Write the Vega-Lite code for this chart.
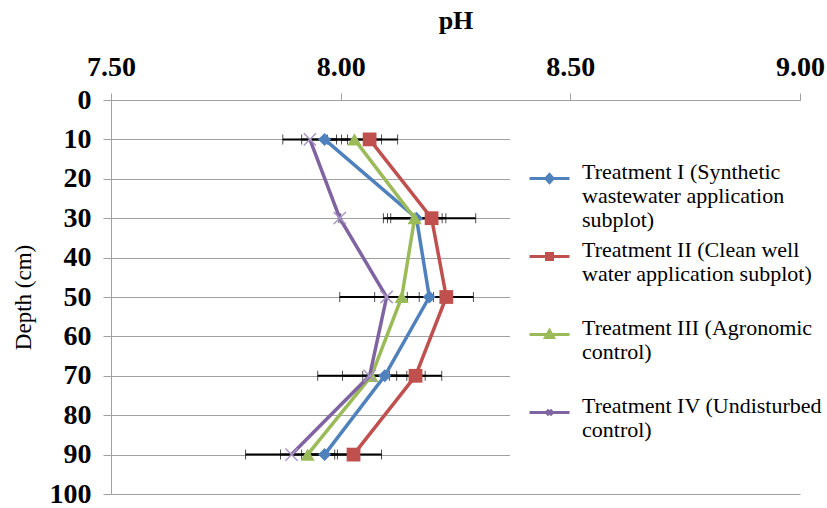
{
  "$schema": "https://vega.github.io/schema/vega-lite/v6.json",
  "width": 689,
  "height": 394,
  "autosize": {"type": "none"},
  "padding": {"left": 111, "top": 100, "right": 27, "bottom": 14},
  "background": "white",
  "config": {
    "view": {"stroke": null},
    "font": "Liberation Serif",
    "style": {"guide-label": {"lineHeight": 24}},
    "legend": {
      "orient": "none",
      "legendX": 399,
      "legendY": 39,
      "padding": 18,
      "fillColor": "white",
      "labelFont": "Liberation Serif",
      "labelFontSize": 22,
      "labelColor": "black",
      "labelBaseline": "alphabetic",
      "labelLimit": 400,
      "labelOffset": 11,
      "symbolSize": 1600,
      "symbolStrokeWidth": 3,
      "symbolOpacity": 1,
      "gridAlign": "all",
      "rowPadding": 4
    }
  },
  "data": {
    "values": [
      {"t": "Treatment I", "depth": 10, "ph": 7.965, "lo": 7.915, "hi": 8.015},
      {"t": "Treatment I", "depth": 30, "ph": 8.165, "lo": 8.109, "hi": 8.221},
      {"t": "Treatment I", "depth": 50, "ph": 8.193, "lo": 8.145, "hi": 8.241},
      {"t": "Treatment I", "depth": 70, "ph": 8.096, "lo": 8.048, "hi": 8.144},
      {"t": "Treatment I", "depth": 90, "ph": 7.965, "lo": 7.915, "hi": 8.015},
      {"t": "Treatment II", "depth": 10, "ph": 8.063, "lo": 8.002, "hi": 8.124},
      {"t": "Treatment II", "depth": 30, "ph": 8.198, "lo": 8.102, "hi": 8.294},
      {"t": "Treatment II", "depth": 50, "ph": 8.23, "lo": 8.171, "hi": 8.289},
      {"t": "Treatment II", "depth": 70, "ph": 8.163, "lo": 8.106, "hi": 8.22},
      {"t": "Treatment II", "depth": 90, "ph": 8.028, "lo": 7.967, "hi": 8.089},
      {"t": "Treatment III", "depth": 10, "ph": 8.03, "lo": 7.971, "hi": 8.089},
      {"t": "Treatment III", "depth": 30, "ph": 8.161, "lo": 8.093, "hi": 8.229},
      {"t": "Treatment III", "depth": 50, "ph": 8.133, "lo": 8.074, "hi": 8.192},
      {"t": "Treatment III", "depth": 70, "ph": 8.067, "lo": 7.95, "hi": 8.184},
      {"t": "Treatment III", "depth": 90, "ph": 7.928, "lo": 7.869, "hi": 7.987},
      {"t": "Treatment IV", "depth": 10, "ph": 7.933, "lo": 7.874, "hi": 7.991},
      {"t": "Treatment IV", "depth": 30, "ph": 7.998, "lo": 7.996, "hi": 8.0},
      {"t": "Treatment IV", "depth": 50, "ph": 8.1, "lo": 7.998, "hi": 8.202},
      {"t": "Treatment IV", "depth": 70, "ph": 8.063, "lo": 8.004, "hi": 8.122},
      {"t": "Treatment IV", "depth": 90, "ph": 7.893, "lo": 7.793, "hi": 7.993}
    ]
  },
  "encoding": {
    "y": {
      "field": "depth",
      "type": "quantitative",
      "scale": {"domain": [0, 100], "reverse": true, "nice": false, "zero": false},
      "axis": {
        "values": [0, 10, 20, 30, 40, 50, 60, 70, 80, 90, 100],
        "grid": true,
        "gridColor": "#a0a0a0",
        "domainColor": "#a0a0a0",
        "tickColor": "#a0a0a0",
        "tickSize": 8,
        "labelFontSize": 28,
        "labelFontWeight": "bold",
        "labelColor": "black",
        "labelPadding": 12,
        "labelFlush": false,
        "title": "Depth (cm)",
        "titleFontSize": 23,
        "titleFontWeight": "normal",
        "titleColor": "black",
        "titlePadding": 14
      }
    }
  },
  "layer": [
    {
      "mark": {
        "type": "errorbar",
        "ticks": {"size": 10, "color": "black", "strokeWidth": 2},
        "rule": {"color": "black", "strokeWidth": 2},
        "color": "black"
      },
      "encoding": {
        "x": {
          "field": "lo",
          "type": "quantitative",
          "scale": {"domain": [7.5, 9], "nice": false, "zero": false},
          "axis": {
            "orient": "top",
            "values": [7.5, 8, 8.5, 9],
            "format": ".2f",
            "grid": false,
            "domainColor": "#a0a0a0",
            "tickColor": "#a0a0a0",
            "tickSize": 7,
            "labelFontSize": 28,
            "labelFontWeight": "bold",
            "labelColor": "black",
            "labelPadding": 12,
            "labelFlush": false,
            "title": "pH",
            "titleFontSize": 26,
            "titleFontWeight": "bold",
            "titleColor": "black",
            "titlePadding": 20
          }
        },
        "x2": {"field": "hi"}
      }
    },
    {
      "transform": [{"filter": "datum.t == 'Treatment I'"}],
      "mark": {"type": "line", "color": "#4F81BD", "strokeWidth": 3.5,
        "point": {"shape": "diamond", "filled": true, "size": 170, "color": "#4F81BD"}},
      "encoding": {"x": {"field": "ph", "type": "quantitative"}, "order": {"field": "depth", "type": "quantitative"}}
    },
    {
      "transform": [{"filter": "datum.t == 'Treatment II'"}],
      "mark": {"type": "line", "color": "#C0504D", "strokeWidth": 3.5,
        "point": {"shape": "square", "filled": true, "size": 190, "color": "#C0504D"}},
      "encoding": {"x": {"field": "ph", "type": "quantitative"}, "order": {"field": "depth", "type": "quantitative"}}
    },
    {
      "transform": [{"filter": "datum.t == 'Treatment III'"}],
      "mark": {"type": "line", "color": "#9BBB59", "strokeWidth": 3.5,
        "point": {"shape": "triangle-up", "filled": true, "size": 200, "color": "#9BBB59"}},
      "encoding": {"x": {"field": "ph", "type": "quantitative"}, "order": {"field": "depth", "type": "quantitative"}}
    },
    {
      "transform": [{"filter": "datum.t == 'Treatment IV'"}],
      "mark": {"type": "line", "color": "#8064A2", "strokeWidth": 3.5,
        "point": {"shape": "M-1,-1L1,1M-1,1L1,-1", "filled": false, "size": 150, "strokeWidth": 1.5, "color": "#a996c6"}},
      "encoding": {"x": {"field": "ph", "type": "quantitative"}, "order": {"field": "depth", "type": "quantitative"}}
    },
    {
      "mark": {"type": "point", "filled": true, "opacity": 0},
      "encoding": {
        "x": {"field": "ph", "type": "quantitative"},
        "color": {
          "field": "t",
          "type": "nominal",
          "scale": {
            "domain": ["Treatment I", "Treatment II", "Treatment III", "Treatment IV"],
            "range": ["#4F81BD", "#C0504D", "#9BBB59", "#8064A2"]
          },
          "legend": {
            "title": null,
            "labelExpr": "datum.value == 'Treatment I' ? ['Treatment I (Synthetic', 'wastewater application', 'subplot)'] : datum.value == 'Treatment II' ? ['Treatment II (Clean well', 'water application subplot)'] : datum.value == 'Treatment III' ? ['Treatment III (Agronomic', 'control)'] : ['Treatment IV (Undisturbed', 'control)']"
          }
        },
        "stroke": {
          "field": "t",
          "type": "nominal",
          "scale": {
            "domain": ["Treatment I", "Treatment II", "Treatment III", "Treatment IV"],
            "range": ["#4F81BD", "#C0504D", "#9BBB59", "#8064A2"]
          },
          "legend": {
            "title": null,
            "labelExpr": "datum.value == 'Treatment I' ? ['Treatment I (Synthetic', 'wastewater application', 'subplot)'] : datum.value == 'Treatment II' ? ['Treatment II (Clean well', 'water application subplot)'] : datum.value == 'Treatment III' ? ['Treatment III (Agronomic', 'control)'] : ['Treatment IV (Undisturbed', 'control)']"
          }
        },
        "shape": {
          "field": "t",
          "type": "nominal",
          "scale": {
            "domain": ["Treatment I", "Treatment II", "Treatment III", "Treatment IV"],
            "range": [
              "M-1,0H1M0,-0.2L0.18,0L0,0.2L-0.18,0Z",
              "M-1,0H1M-0.15,-0.15H0.15V0.15H-0.15Z",
              "M-1,0H1M0,-0.2L0.2,0.15H-0.2Z",
              "M-1,0H1M-0.13,-0.13L0.13,0.13M-0.13,0.13L0.13,-0.13"
            ]
          },
          "legend": {
            "title": null,
            "labelExpr": "datum.value == 'Treatment I' ? ['Treatment I (Synthetic', 'wastewater application', 'subplot)'] : datum.value == 'Treatment II' ? ['Treatment II (Clean well', 'water application subplot)'] : datum.value == 'Treatment III' ? ['Treatment III (Agronomic', 'control)'] : ['Treatment IV (Undisturbed', 'control)']"
          }
        }
      }
    }
  ]
}
